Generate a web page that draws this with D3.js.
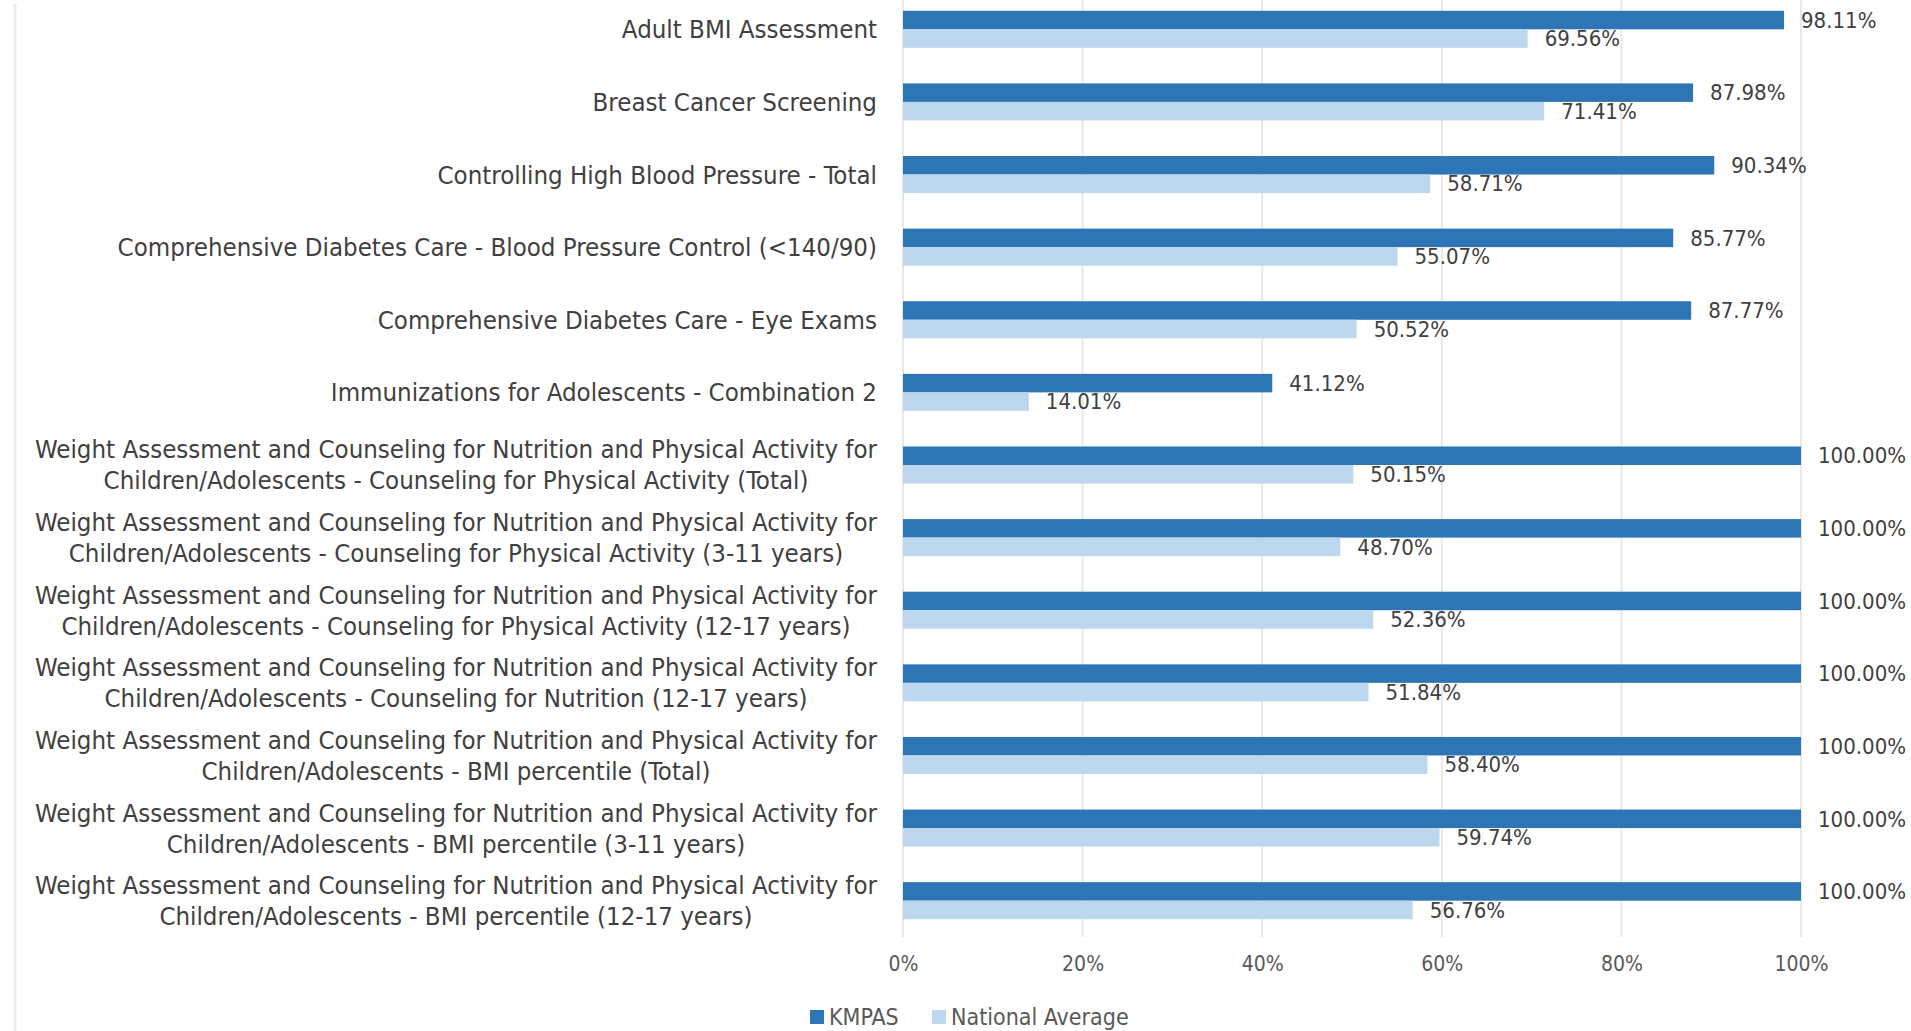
<!DOCTYPE html>
<html>
<head>
<meta charset="utf-8">
<script src="https://cdn.jsdelivr.net/npm/d3@7"></script>
<style>
  body { margin: 0; background: #fff; }
  text { font-family: "Liberation Sans Narrow", "DejaVu Sans Condensed", "Arial Narrow", sans-serif; }
</style>
</head>
<body>
<svg id="chart"></svg>
<script>
const width = 1911;
const height = 1031;

// data
const categories = [
  ["Adult BMI Assessment"],
  ["Breast Cancer Screening"],
  ["Controlling High Blood Pressure - Total"],
  ["Comprehensive Diabetes Care - Blood Pressure Control (<140/90)"],
  ["Comprehensive Diabetes Care - Eye Exams"],
  ["Immunizations for Adolescents - Combination 2"],
  ["Weight Assessment and Counseling for Nutrition and Physical Activity for", "Children/Adolescents - Counseling for Physical Activity (Total)"],
  ["Weight Assessment and Counseling for Nutrition and Physical Activity for", "Children/Adolescents - Counseling for Physical Activity (3-11 years)"],
  ["Weight Assessment and Counseling for Nutrition and Physical Activity for", "Children/Adolescents - Counseling for Physical Activity (12-17 years)"],
  ["Weight Assessment and Counseling for Nutrition and Physical Activity for", "Children/Adolescents - Counseling for Nutrition (12-17 years)"],
  ["Weight Assessment and Counseling for Nutrition and Physical Activity for", "Children/Adolescents - BMI percentile (Total)"],
  ["Weight Assessment and Counseling for Nutrition and Physical Activity for", "Children/Adolescents - BMI percentile (3-11 years)"],
  ["Weight Assessment and Counseling for Nutrition and Physical Activity for", "Children/Adolescents - BMI percentile (12-17 years)"]
];
const kmpas = [98.11, 87.98, 90.34, 85.77, 87.77, 41.12, 100, 100, 100, 100, 100, 100, 100];
const national = [69.56, 71.41, 58.71, 55.07, 50.52, 14.01, 50.15, 48.70, 52.36, 51.84, 58.40, 59.74, 56.76];
const seriesNames = ["KMPAS", "National Average"];
const xTicks = [0, 20, 40, 60, 80, 100];

const colors = ["#2e75b6", "#bdd7ee"];

const svg = d3.select("#chart")
  .attr("width", width)
  .attr("height", height);

// left border of the chart area
svg.append("line")
  .attr("x1", 15).attr("x2", 15)
  .attr("y1", 4).attr("y2", height)
  .attr("stroke", "#ececec")
  .attr("stroke-width", 3);

const xScale = d3.scaleLinear().domain([0, 100]).range([903, 1801]);

const yScale = d3.scaleBand()
  .domain(d3.range(categories.length))
  .range([-7, 937])
  .paddingInner(0.49)
  .paddingOuter(0.245);

const sub = d3.scaleBand()
  .domain([0, 1])
  .range([0, yScale.bandwidth()]);

// gridlines
svg.append("g")
  .selectAll("line")
  .data(xTicks)
  .join("line")
  .attr("x1", d => xScale(d)).attr("x2", d => xScale(d))
  .attr("y1", 0).attr("y2", 937)
  .attr("stroke", "#e8e8e8")
  .attr("stroke-width", 2);

// x axis labels
const xAxis = d3.axisBottom(xScale)
  .tickValues(xTicks)
  .tickFormat(d => d + "%")
  .tickSize(0)
  .tickPadding(0);

const xg = svg.append("g")
  .attr("transform", "translate(0, 956)")
  .call(xAxis);
xg.select(".domain").remove();
xg.selectAll("text")
  .attr("fill", "#595959")
  .attr("font-size", 21)
  .attr("dy", "0.71em");

// bars
const rows = categories.map((c, i) => ({ i, vals: [kmpas[i], national[i]] }));

const groups = svg.append("g")
  .selectAll("g")
  .data(rows)
  .join("g")
  .attr("transform", d => `translate(0, ${yScale(d.i)})`);

groups.selectAll("rect")
  .data(d => d.vals.map((v, s) => ({ v, s })))
  .join("rect")
  .attr("x", xScale(0))
  .attr("y", d => sub(d.s))
  .attr("width", d => xScale(d.v) - xScale(0))
  .attr("height", sub.bandwidth())
  .attr("fill", d => colors[d.s]);

groups.selectAll("text")
  .data(d => d.vals.map((v, s) => ({ v, s })))
  .join("text")
  .attr("x", d => xScale(d.v) + 17)
  .attr("y", d => sub(d.s) + sub.bandwidth() / 2)
  .attr("dy", "0.35em")
  .attr("font-size", 22)
  .attr("fill", "#404040")
  .text(d => d.v.toFixed(2) + "%");

// category labels (wrapped labels centered in their block, block right aligned)
const labelRight = 877;
const lineH = 31;
const labels = svg.append("g")
  .selectAll("g")
  .data(categories)
  .join("g")
  .attr("transform", (d, i) => `translate(0, ${yScale(i) + yScale.bandwidth() / 2})`);

labels.each(function (lines) {
  const g = d3.select(this);
  const texts = g.selectAll("text")
    .data(lines)
    .join("text")
    .attr("font-size", 25.6)
    .attr("fill", "#404040")
    .attr("y", (d, j) => (j - (lines.length - 1) / 2) * lineH)
    .attr("dy", "0.35em")
    .text(d => d);
  const maxW = d3.max(texts.nodes(), n => n.getComputedTextLength());
  texts.attr("text-anchor", "middle").attr("x", labelRight - maxW / 2);
});

// legend
const legendX = [810, 932];
const legend = svg.append("g")
  .selectAll("g")
  .data(seriesNames)
  .join("g")
  .attr("transform", (d, i) => `translate(${legendX[i]}, 1017)`);

legend.append("rect")
  .attr("x", 0).attr("y", -7)
  .attr("width", 14).attr("height", 14)
  .attr("fill", (d, i) => colors[i]);

legend.append("text")
  .attr("x", 19)
  .attr("dy", "0.35em")
  .attr("font-size", 23)
  .attr("fill", "#595959")
  .text(d => d);
</script>
</body>
</html>
